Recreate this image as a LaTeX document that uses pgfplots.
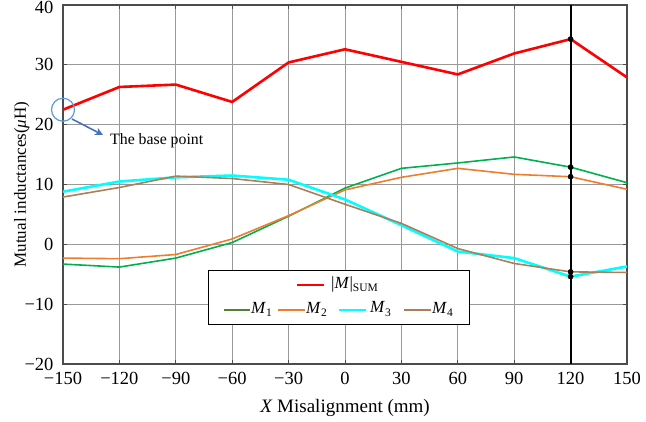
\documentclass[border=0pt]{standalone}
\usepackage{pgfplots}
\pgfplotsset{compat=1.18}
\usepackage{fontspec}
\setmainfont{Liberation Serif}
\usetikzlibrary{arrows.meta}
\definecolor{cred}{HTML}{FF0000}
\definecolor{cgreen}{HTML}{00B050}
\definecolor{clgreen}{HTML}{548235}
\definecolor{corange}{HTML}{ED7D31}
\definecolor{ccyan}{HTML}{00FFFF}
\definecolor{cbrown}{HTML}{AD7E5C}
\definecolor{cblue}{HTML}{5B9BD5}
\definecolor{carrow}{HTML}{4472C4}
\newcommand{\sub}[1]{\raisebox{-0.4ex}{\fontsize{11.5}{12}\selectfont #1}}
\begin{document}
\begin{tikzpicture}[x=1pt,y=1pt,font=\fontsize{12.5}{15}\selectfont]
\useasboundingbox (-63,-57) rectangle (583,364);
\begin{axis}[
  name=ax, at={(0,0)}, anchor=south west,
  scale only axis, width=564pt, height=359pt,
  xmin=-150, xmax=150, ymin=-20, ymax=40,
  xtick={-150,-120,...,150},
  xticklabels={−150,−120,−90,−60,−30,0,30,60,90,120,150},
  ytick={-20,-10,...,40},
  yticklabels={−20,−10,0,10,20,30,\raisebox{-8pt}[0pt][0pt]{40}},
  grid=major,
  major grid style={gray!80, line width=0.8pt},
  axis line style={black!70, line width=1.2pt},
  tick style={black!70, line width=0.8pt},
  tick label style={font=\fontsize{18.5}{21}\selectfont},
  yticklabel style={xshift=-6pt},
  xticklabel style={yshift=-5pt},
  xlabel={\textit{X} Misalignment (mm)},
  ylabel={Mutual inductances(\textit{μ}H)},
  xlabel style={font=\fontsize{19}{22}\selectfont, at={(rel axis cs:0.5,0)}, anchor=base, inner sep=0pt, yshift=-48pt},
  ylabel style={font=\fontsize{17}{20}\selectfont, at={(rel axis cs:0,0.5)}, anchor=base, inner sep=0pt, yshift=37pt},
  clip=false,
]
\addplot[cgreen, line width=1.6pt] coordinates {(-150,-3.3) (-120,-3.8) (-90,-2.3) (-60,0.3) (-30,4.7) (0,9.4) (30,12.7) (60,13.6) (90,14.6) (120,12.9) (150,10.3)};
\addplot[corange, line width=1.6pt] coordinates {(-150,-2.3) (-120,-2.4) (-90,-1.7) (-60,0.9) (-30,4.8) (0,9.1) (30,11.2) (60,12.7) (90,11.7) (120,11.3) (150,9.2)};
\addplot[ccyan, line width=2.6pt] coordinates {(-150,8.8) (-120,10.5) (-90,11.2) (-60,11.5) (-30,10.8) (0,7.5) (30,3.2) (60,-1.2) (90,-2.3) (120,-5.4) (150,-3.7)};
\addplot[cbrown, line width=1.6pt] coordinates {(-150,7.9) (-120,9.5) (-90,11.4) (-60,11.0) (-30,10.0) (0,6.7) (30,3.5) (60,-0.7) (90,-3.2) (120,-4.6) (150,-4.7)};
\addplot[cred, line width=2.6pt] coordinates {(-150,22.5) (-120,26.3) (-90,26.7) (-60,23.8) (-30,30.4) (0,32.6) (30,30.5) (60,28.4) (90,31.9) (120,34.3) (150,27.9)};
\addplot[black, line width=2pt] coordinates {(120,-20) (120,40)};
\addplot[only marks, mark=*, mark size=2.6pt, black] coordinates {(120,34.3) (120,12.9) (120,11.3) (120,-4.6) (120,-5.4)};
\draw[cblue, line width=1.2pt] (axis cs:-150,22.5) circle[radius=11.5pt];
\end{axis}
\begin{scope}[shift={(ax.south west)}]
\draw[carrow, line width=1.6pt, -{Stealth[length=8pt,width=8pt]}] (9,245) -- (40,229);
\node[anchor=west, inner sep=0pt, font=\fontsize{15.8}{18}\selectfont] at (47,223) {The base point};
% legend
\draw[black, line width=0.9pt, fill=white] (145,40) rectangle (406,94);
\draw[cred, line width=2.8pt] (234,79) -- (261,79);
\node[anchor=west, inner sep=0pt, font=\fontsize{17}{20}\selectfont] at (268,80) {|\textit{M}|\sub{SUM}};
\draw[clgreen, line width=2.8pt] (161,54) -- (187,54);
\node[anchor=west, inner sep=0pt, font=\fontsize{17}{20}\selectfont] at (188,55) {\textit{M}\sub{1}};
\draw[corange, line width=2.8pt] (215,54) -- (242,54);
\node[anchor=west, inner sep=0pt, font=\fontsize{17}{20}\selectfont] at (243,55) {\textit{M}\sub{2}};
\draw[ccyan, line width=2.8pt] (276,54) -- (303,54);
\node[anchor=west, inner sep=0pt, font=\fontsize{17}{20}\selectfont] at (307,55) {\textit{M}\sub{3}};
\draw[cbrown, line width=2.8pt] (341,54) -- (368,54);
\node[anchor=west, inner sep=0pt, font=\fontsize{17}{20}\selectfont] at (369,55) {\textit{M}\sub{4}};
\end{scope}
\end{tikzpicture}
\end{document}
